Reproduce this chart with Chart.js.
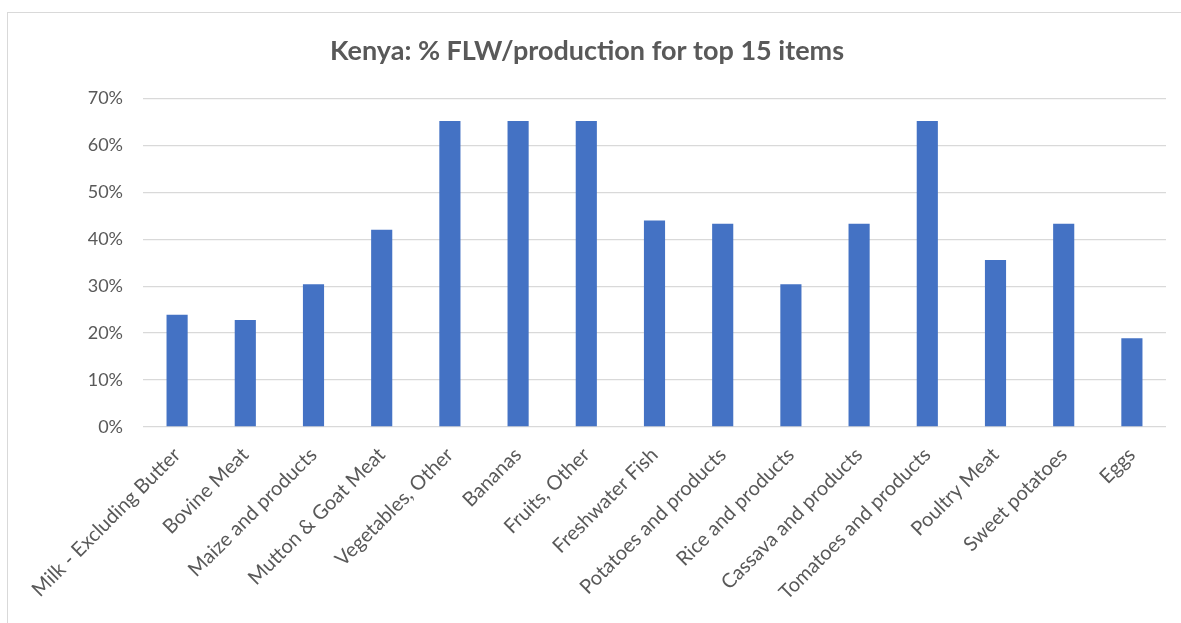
<!DOCTYPE html>
<html>
<head>
<meta charset="utf-8">
<script src="https://cdn.jsdelivr.net/npm/chart.js@4"></script>
<style>
    html, body { margin: 0; padding: 0; background: #fff; overflow: hidden; }
    #frame {
        position: absolute; left: 7px; top: 12px;
        width: 1200px; height: 640px;
        border: 1px solid #d9d9d9;
    }
    #wrap { position: absolute; left: 0; top: 0; width: 1174px; height: 611px; }
</style>
</head>
<body>
<div id="frame">
    <div id="wrap"><canvas id="chart"></canvas></div>
</div>
<script>
// chart data
const items = [
    "Milk - Excluding Butter", "Bovine Meat", "Maize and products", "Mutton & Goat Meat",
    "Vegetables, Other", "Bananas", "Fruits, Other", "Freshwater Fish",
    "Potatoes and products", "Rice and products", "Cassava and products",
    "Tomatoes and products", "Poultry Meat", "Sweet potatoes", "Eggs"
];
const flwShare = [23.9, 22.8, 30.4, 42.0, 65.2, 65.2, 65.2, 44.0, 43.3, 30.4, 43.3, 65.2, 35.6, 43.3, 18.9];
const yTicks = [0, 10, 20, 30, 40, 50, 60, 70];

const textColor = "#595959";
const fontName = "Lato, 'Open Sans', sans-serif";

const ctx = document.getElementById("chart").getContext("2d");
new Chart(ctx, {
    type: "bar",
    data: {
        labels: items,
        datasets: [{
            data: flwShare,
            backgroundColor: "#4472C4",
            barPercentage: 0.62,
            categoryPercentage: 0.5
        }]
    },
    options: {
        responsive: true,
        maintainAspectRatio: false,
        animation: false,
        layout: { padding: { left: 0, right: 16, top: 0, bottom: 0 } },
        plugins: {
            legend: { display: false },
            tooltip: { enabled: false },
            title: {
                display: true,
                text: "Kenya: % FLW/production for top 15 items",
                color: textColor,
                font: { family: fontName, size: 27, weight: "bold" },
                padding: { top: 22, bottom: 31 }
            }
        },
        scales: {
            x: {
                grid: { display: false },
                border: { display: false },
                ticks: {
                    color: textColor,
                    font: { family: fontName, size: 20 },
                    minRotation: 45,
                    maxRotation: 45,
                    autoSkip: false,
                    padding: 8
                },
                afterFit: function (axis) { axis.height = 197; }
            },
            y: {
                min: 0,
                max: 70,
                afterBuildTicks: function (axis) {
                    axis.ticks = yTicks.map(v => ({ value: v }));
                },
                grid: { color: "#d9d9d9", lineWidth: 1.3, drawTicks: false },
                border: { display: false },
                ticks: {
                    color: textColor,
                    font: { family: fontName, size: 18 },
                    padding: 20,
                    callback: v => v + "%"
                },
                afterFit: function (axis) { axis.width = 135; }
            }
        }
    }
});
</script>
</body>
</html>
